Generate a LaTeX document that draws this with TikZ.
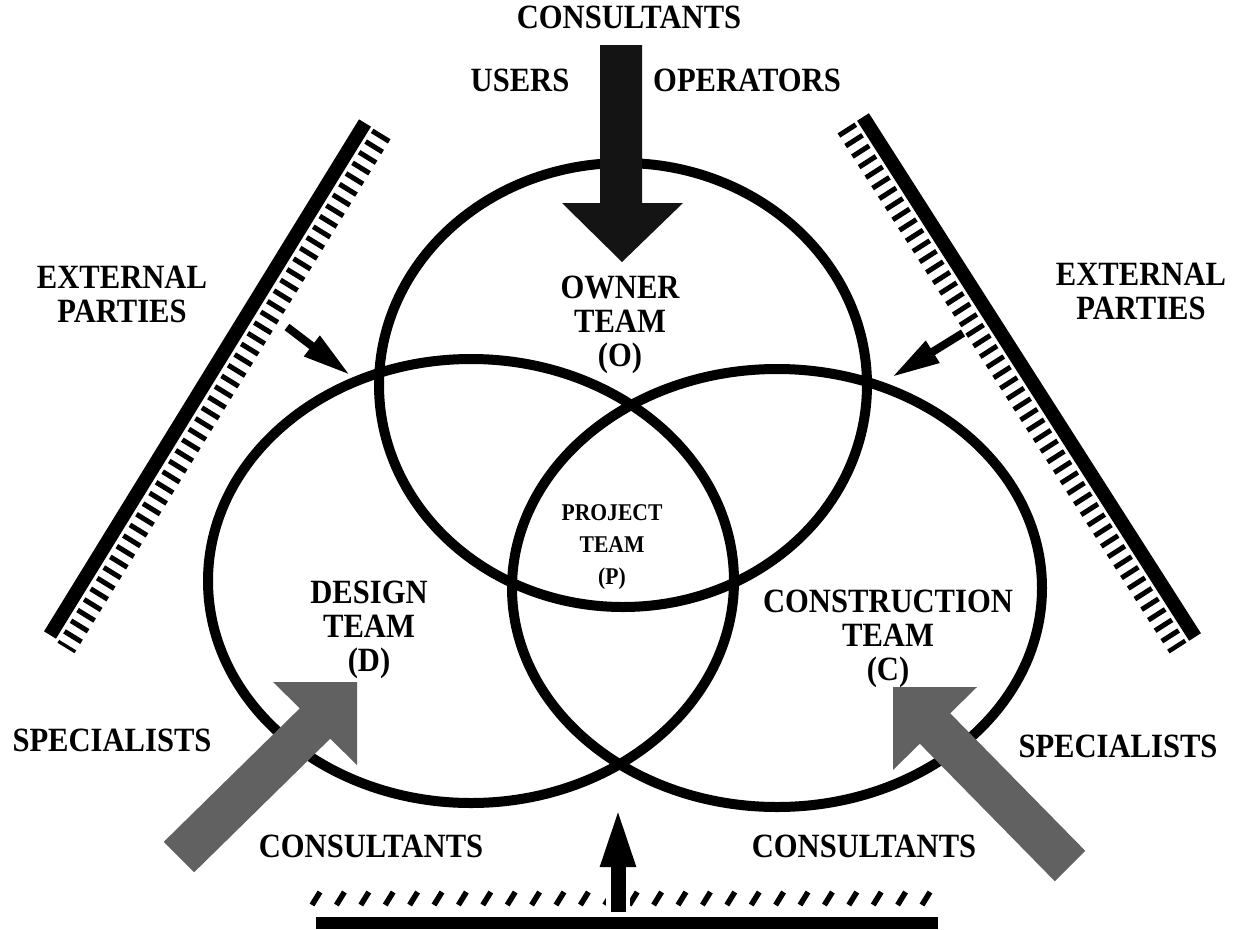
\documentclass[tikz,border=0pt]{standalone}
\usepackage{fontspec}
\setmainfont{Liberation Serif}[FakeStretch=0.9]
\usetikzlibrary{arrows.meta}
\begin{document}
\begin{tikzpicture}[x=1pt,y=-1pt,
  lab/.style={font=\fontsize{34}{34}\selectfont\bfseries, inner sep=0pt, align=center},
  projlab/.style={font=\fontsize{24}{32}\selectfont\bfseries, inner sep=0pt, align=center},
  ring/.style={line width=10pt},
  barrier/.style={line width=14pt},
  hatchline/.style={line width=20pt, dash pattern=on 5pt off 7.5pt},
  slash/.style={line width=5.5pt},
  grayarrow/.style={fill=black!62},
  darkarrow/.style={fill=black!92},
  smallarrow/.style={line width=8pt, -{Triangle[length=48pt,width=24pt]}}
]
\useasboundingbox (0,0) rectangle (1234,929);
\fill[white] (0,0) rectangle (1234,929);

% circles
\coordinate (O) at (623,385);
\coordinate (D) at (471,581);
\coordinate (C) at (777,588);
\draw[ring] (O) ellipse [x radius=244, y radius=222];
\draw[ring] (D) ellipse [x radius=263, y radius=222];
\draw[ring] (C) ellipse [x radius=265, y radius=219];

% left barrier
\coordinate (lb1) at (365,123);
\coordinate (lb2) at (50,635);
\coordinate (lh1) at (382,134);
\coordinate (lh2) at (66,648);
\draw[barrier] (lb1) -- (lb2);
\draw[hatchline] (lh1) -- (lh2);

% right barrier
\coordinate (rb1) at (863,117);
\coordinate (rb2) at (1195,637);
\coordinate (rh1) at (846,128);
\coordinate (rh2) at (1178,648);
\draw[barrier] (rb1) -- (rb2);
\draw[hatchline] (rh1) -- (rh2);

% bottom barrier
\coordinate (bb1) at (316,923);
\coordinate (bb2) at (938,923);
\draw[line width=12pt] (bb1) -- (bb2);
\foreach \i in {0,...,25} {
  \draw[slash] (312+\i*24.4,905) -- (320+\i*24.4,892);
}

% small arrows from external parties
\coordinate (la1) at (287,327);
\coordinate (la2) at (350,375);
\draw[smallarrow] (la1) -- (la2);
\coordinate (ra1) at (963,333);
\coordinate (ra2) at (892,377);
\draw[smallarrow] (ra1) -- (ra2);

% bottom arrow
\coordinate (ba1) at (618,912);
\coordinate (ba2) at (618,805);
\draw[white, line width=24pt] (618,885) -- (618,912);
\draw[line width=15pt, -{Triangle[length=62pt,width=31pt]}] (ba1) -- (ba2);

% top arrow
\fill[darkarrow] (600,45) -- (642,45) -- (642,203) -- (683,203) -- (622,262)
  -- (562,203) -- (600,203) -- cycle;

% gray arrows
\fill[grayarrow] (163.8,841.8) -- (299.8,708.3) -- (273,682) -- (357,682)
  -- (357,765) -- (330.2,738.7) -- (194.2,872.2) -- cycle;
\fill[grayarrow] (1054.8,881.2) -- (919.8,743.7) -- (893,770) -- (893,687)
  -- (977,687) -- (950.2,713.3) -- (1085.2,850.8) -- cycle;

% labels
\node[lab] (tcons) at (629,17) {CONSULTANTS};
\node[lab] (users) at (520,80) {USERS};
\node[lab] (oper) at (747,80) {OPERATORS};
\node[lab] (extl) at (122,294) {EXTERNAL\\PARTIES};
\node[lab] (extr) at (1141,291) {EXTERNAL\\PARTIES};
\node[lab] (owner) at (620,325) {OWNER\\TEAM\\(O)};
\node[projlab] (proj) at (612,547) {PROJECT\\TEAM\\(P)};
\node[lab] (design) at (369,630) {DESIGN\\TEAM\\(D)};
\node[lab] (constr) at (888,639) {CONSTRUCTION\\TEAM\\(C)};
\node[lab] (specl) at (112,740) {SPECIALISTS};
\node[lab] (specr) at (1118,746) {SPECIALISTS};
\node[lab] (consl) at (371,846) {CONSULTANTS};
\node[lab] (consr) at (864,846) {CONSULTANTS};
\end{tikzpicture}
\end{document}
